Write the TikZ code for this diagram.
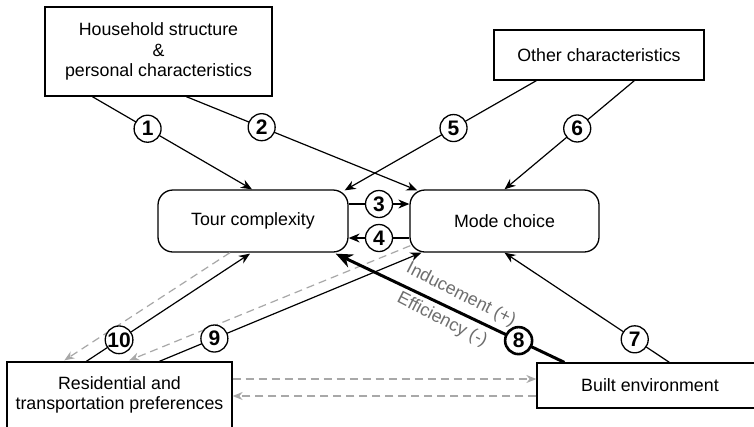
\documentclass[tikz,border=0pt]{standalone}
\usepackage{fontspec}
\setmainfont{Liberation Sans}
\usetikzlibrary{arrows.meta}
\definecolor{dgray}{HTML}{A8A8A8}
\definecolor{lgray}{HTML}{6E6E6E}
\begin{document}
\begin{tikzpicture}[x=1pt,y=-1pt,
  box/.style={draw, line width=1.3pt, align=center, inner sep=0pt,
    font=\fontsize{17.8}{20.5}\selectfont},
  rbox/.style={box, rounded corners=15pt},
  conn/.style={line width=1.2pt, -{Stealth[length=11pt,width=9pt]}},
  bigconn/.style={line width=3pt, {Stealth[length=17pt,width=14pt]}-},
  dconn/.style={line width=1.2pt, dgray, dash pattern=on 8pt off 5pt,
    -{Stealth[length=10pt,width=8pt]}},
  numc/.style={draw, circle, fill=white, line width=1.3pt, minimum size=27pt,
    inner sep=0pt, font=\fontsize{21}{21}\selectfont\bfseries},
  numcb/.style={numc, line width=2.6pt},
  lbl/.style={text=lgray, inner sep=0pt, font=\fontsize{17.8}{20}\selectfont, rotate=-27}
]
\useasboundingbox (0,0) rectangle (754,426);
\fill[white] (0,0) rectangle (754,426);

% boxes
\node[box, minimum width=227pt, minimum height=89pt] (hh) at (158.5,51.5)
  {Household structure\\\&\\personal characteristics};
\node[box, minimum width=210pt, minimum height=50pt] (oc) at (599,55)
  {Other characteristics};
\node[rbox, minimum width=190pt, minimum height=62pt] (tc) at (253,221)
  {Tour complexity};
\node[rbox, minimum width=189pt, minimum height=62pt] (mc) at (504.5,221)
  {Mode choice};
\node[box, minimum width=225pt, minimum height=66pt] (rp) at (119.5,395)
  {Residential and\\transportation preferences};
\node[box, minimum width=226pt, minimum height=45pt] (be) at (650,385.5)
  {Built environment};

% dashed feedback
\draw[dconn] ([xshift=-23pt]tc.south) -- ([xshift=58pt,yshift=1pt]rp.north west);
\draw[dconn] ([xshift=1pt,yshift=7pt]mc.south west) -- ([xshift=123pt,yshift=1pt]rp.north west);
\draw[dconn] ([yshift=16pt]rp.east) -- ([yshift=6.5pt]be.west);
\draw[dconn] ([yshift=-10.5pt]be.west) -- ([yshift=-1pt]rp.east);

% solid connectors
\draw[conn] ([xshift=48pt]hh.south west) -- node[numc, pos=0.346] (n1) {1} ([xshift=-1pt]tc.north);
\draw[conn] ([xshift=142pt]hh.south west) -- node[numc, pos=0.326] (n2) {2} ([xshift=8pt,yshift=-1pt]mc.north west);
\draw[conn] ([xshift=43pt]oc.south west) -- node[numc, pos=0.432] (n5) {5} ([xshift=-4pt,yshift=-1pt]tc.north east);
\draw[conn] ([xshift=141pt]oc.south west) -- node[numc, pos=0.44] (n6) {6} (mc.north);
\draw[conn] ([yshift=17pt]tc.east) -- node[numc, pos=0.5] (n3) {3} ([yshift=17pt]mc.west);
\draw[conn] ([yshift=-17pt]mc.west) -- node[numc, pos=0.5] (n4) {4} ([yshift=-17pt]tc.east);
\draw[conn] ([xshift=133pt]be.north west) -- node[numc, pos=0.21] (n7) {7} (mc.south);
\draw[conn] ([xshift=153pt]rp.north west) -- node[numc, pos=0.21] (n9) {9} ([xshift=12pt]mc.south west);
\draw[conn] ([xshift=80pt]rp.north west) -- node[numc, pos=0.2] (n10) {10} ([xshift=-3pt,yshift=-1pt]tc.south);
\draw[bigconn] ([xshift=-13pt,yshift=-1pt]tc.south east) -- node[numcb, pos=0.8] (n8) {8} ([xshift=28pt]be.north west);

% labels
\node[lbl] (ind) at (461,295) {Inducement (+)};
\node[lbl] (eff) at (442,320) {Efficiency (-)};
\end{tikzpicture}
\end{document}
